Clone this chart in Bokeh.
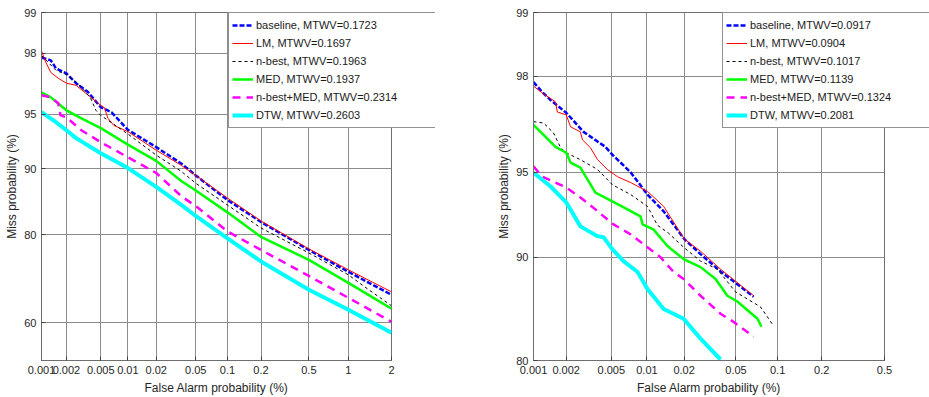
from statistics import NormalDist
from bokeh.plotting import figure
from bokeh.layouts import row
from bokeh.models import (CustomJSTickFormatter, FixedTicker, Range1d, Legend, LegendItem)
from bokeh.embed import file_html
from bokeh.resources import INLINE

FONT = "Liberation Sans"
ND = NormalDist()


def probit(pcts):
    return [ND.inv_cdf(v / 100.0) for v in pcts]


# ---------------- data (percent values) ----------------
series_names = ["baseline", "LM", "n-best", "MED", "n-best+MED", "DTW"]

# Left panel
left_mtwv = ["0.1723", "0.1697", "0.1963", "0.1937", "0.2314", "0.2603"]
left_x_ticks = [0.001, 0.002, 0.005, 0.01, 0.02, 0.05, 0.1, 0.2, 0.5, 1, 2]
left_x_labels = ["0.001", "0.002", "0.005", "0.01", "0.02", "0.05", "0.1", "0.2", "0.5", "1", "2"]
left_y_ticks = [60, 80, 90, 95, 98, 99]
left_y_labels = ["60", "80", "90", "95", "98", "99"]
left_x_range = [0.001, 2]
left_y_range = [50, 99]

left_baseline_fa = [0.001, 0.0013, 0.0015, 0.002, 0.0026, 0.0036, 0.005, 0.0066, 0.01, 0.02, 0.036, 0.05, 0.1, 0.2, 0.5, 1, 2]
left_baseline_miss = [97.86, 97.76, 97.46, 97.25, 96.81, 96.35, 95.48, 95.15, 93.85, 92.31, 90.6, 89.2, 85.84, 82.27, 77.01, 72.33, 66.97]
left_lm_fa = [0.001, 0.0011, 0.0013, 0.0016, 0.002, 0.0026, 0.0036, 0.005, 0.0055, 0.006, 0.007, 0.01, 0.02, 0.036, 0.05, 0.1, 0.2, 0.5, 1, 2]
left_lm_miss = [98.08, 97.76, 97.29, 97.04, 96.81, 96.71, 96.19, 95.6, 95.45, 94.75, 94.2, 93.7, 92.01, 90.4, 89.2, 86.13, 82.45, 77.22, 72.78, 67.69]
left_nbest_fa = [0.001, 0.0015, 0.002, 0.0027, 0.0038, 0.0044, 0.005, 0.01, 0.02, 0.036, 0.05, 0.1, 0.2, 0.5, 1, 1.4, 2]
left_nbest_miss = [97.93, 97.38, 97.2, 96.81, 96.07, 95.28, 94.94, 93.5, 91.51, 89.7, 88.2, 85.07, 81.22, 76.39, 71.66, 68.18, 64.28]
left_med_fa = [0.001, 0.0013, 0.002, 0.003, 0.005, 0.01, 0.02, 0.036, 0.05, 0.1, 0.2, 0.5, 1, 2]
left_med_miss = [96.35, 96.07, 95.28, 94.73, 93.98, 92.55, 90.9, 88.5, 87.2, 83.9, 79.56, 74.94, 69.81, 63.53]
left_nbmed_fa = [0.001, 0.0013, 0.0016, 0.0017, 0.002, 0.003, 0.005, 0.01, 0.02, 0.036, 0.05, 0.1, 0.2, 0.5, 1, 2]
left_nbmed_miss = [96.19, 96.07, 95.72, 94.94, 94.8, 93.81, 92.77, 91.29, 89.5, 86.4, 84.9, 80.6, 77.01, 71.4, 66.24, 60.22]
left_dtw_fa = [0.001, 0.0015, 0.002, 0.0026, 0.005, 0.01, 0.02, 0.036, 0.05, 0.1, 0.2, 0.5, 1, 2]
left_dtw_miss = [95.15, 94.44, 93.81, 93.14, 91.71, 90.08, 87.7, 85.1, 83.3, 79.3, 74.6, 68.18, 63.27, 57.38]

# Right panel
right_mtwv = ["0.0917", "0.0904", "0.1017", "0.1139", "0.1324", "0.2081"]
right_x_ticks = [0.001, 0.002, 0.005, 0.01, 0.02, 0.05, 0.1, 0.2, 0.5]
right_x_labels = ["0.001", "0.002", "0.005", "0.01", "0.02", "0.05", "0.1", "0.2", "0.5"]
right_y_ticks = [80, 90, 95, 98, 99]
right_y_labels = ["80", "90", "95", "98", "99"]
right_x_range = [0.001, 0.5]
right_y_range = [80, 99]

right_baseline_fa = [0.001, 0.00121, 0.00144, 0.002, 0.00286, 0.00445, 0.0051, 0.0073, 0.0101, 0.0137, 0.0201, 0.0269, 0.0403, 0.0496, 0.0674]
right_baseline_miss = [97.88, 97.65, 97.46, 97.12, 96.54, 96.02, 95.73, 95.0, 93.94, 93.03, 91.30, 90.24, 88.71, 87.97, 86.72]
right_lm_fa = [0.001, 0.00121, 0.0016, 0.00166, 0.002, 0.00219, 0.00268, 0.0028, 0.00329, 0.0038, 0.00463, 0.00565, 0.0073, 0.0101, 0.0137, 0.0201, 0.0269, 0.0383, 0.0674]
right_lm_miss = [97.79, 97.63, 97.41, 97.14, 97.06, 96.70, 96.54, 96.27, 95.99, 95.53, 95.12, 94.80, 94.53, 94.10, 93.31, 91.30, 90.45, 89.09, 86.82]
right_nbest_fa = [0.001, 0.00124, 0.00153, 0.00178, 0.002, 0.00268, 0.0038, 0.0051, 0.0073, 0.0101, 0.0122, 0.015, 0.0198, 0.0269, 0.0362, 0.0496, 0.0755, 0.0935]
right_nbest_miss = [96.86, 96.82, 96.51, 95.99, 95.80, 95.53, 95.12, 94.43, 93.94, 93.31, 92.2, 91.7, 90.74, 89.72, 89.09, 87.17, 85.78, 83.89]
right_med_fa = [0.001, 0.00124, 0.0016, 0.002, 0.00219, 0.00268, 0.00364, 0.0051, 0.00687, 0.00884, 0.0092, 0.0113, 0.0147, 0.0198, 0.0269, 0.0351, 0.0431, 0.0514, 0.0719, 0.0768]
right_med_miss = [96.76, 96.44, 96.02, 95.80, 95.41, 95.20, 94.04, 93.58, 93.14, 92.74, 92.26, 91.94, 90.83, 89.87, 89.25, 88.29, 86.82, 86.26, 84.61, 83.79]
right_nbmed_fa = [0.001, 0.00121, 0.002, 0.00268, 0.00364, 0.0051, 0.0073, 0.0101, 0.0129, 0.0165, 0.0198, 0.0269, 0.0383, 0.0478, 0.0674]
right_nbmed_miss = [95.25, 94.80, 94.29, 93.79, 93.14, 92.3, 91.62, 90.74, 90.02, 88.86, 88.29, 86.82, 85.11, 84.30, 82.72]
right_dtw_fa = [0.001, 0.00144, 0.002, 0.00268, 0.0038, 0.00428, 0.0051, 0.00636, 0.00836, 0.0101, 0.0137, 0.0198, 0.0269, 0.0383]
right_dtw_miss = [94.98, 94.34, 93.53, 92.13, 91.50, 91.43, 90.60, 89.72, 88.86, 87.43, 85.58, 84.61, 82.51, 80.12]

# ---------------- styles ----------------
STYLES = [
    dict(line_color="#0000ff", line_width=2.5, line_dash="5 2"),
    dict(line_color="#ff0000", line_width=1),
    dict(line_color="#000000", line_width=1, line_dash="3 3"),
    dict(line_color="#00ff00", line_width=2.5),
    dict(line_color="#ff00ff", line_width=2.5, line_dash="8 6"),
    dict(line_color="#00ffff", line_width=4),
]


def tick_formatter(pos, labels):
    return CustomJSTickFormatter(args=dict(pos=pos, lab=labels), code="""
let b = 0, d = Infinity;
for (let i = 0; i < pos.length; i++) {
  const e = Math.abs(pos[i] - tick);
  if (e < d) { d = e; b = i; }
}
return lab[b];
""")


def make_panel(width, bl, br, bb, xr, yr, xt, xl, yt, yl, curves):
    xr_p = probit(xr)
    yr_p = probit(yr)
    p = figure(width=width, height=397, output_backend="svg", toolbar_location=None,
               x_range=Range1d(xr_p[0], xr_p[1]), y_range=Range1d(yr_p[0], yr_p[1]),
               min_border_left=bl, min_border_right=br, min_border_top=12, min_border_bottom=bb)
    p.background_fill_color = "white"
    p.border_fill_color = "white"
    p.outline_line_color = "#6f6f6f"
    p.outline_line_width = 1

    xpos = probit(xt)
    ypos = probit(yt)
    p.xaxis.ticker = FixedTicker(ticks=xpos)
    p.yaxis.ticker = FixedTicker(ticks=ypos)
    p.xaxis.formatter = tick_formatter(xpos, xl)
    p.yaxis.formatter = tick_formatter(ypos, yl)
    for ax in (p.xaxis[0], p.yaxis[0]):
        ax.minor_tick_line_color = None
        ax.major_tick_in = 4
        ax.major_tick_out = 0
        ax.major_tick_line_color = "#404040"
        ax.axis_line_color = "#6f6f6f"
        ax.major_label_text_font = FONT
        ax.major_label_text_font_size = "11px"
        ax.major_label_text_color = "#262626"
        ax.axis_label_text_font = FONT
        ax.axis_label_text_font_size = "12px"
        ax.axis_label_text_font_style = "normal"
        ax.axis_label_text_color = "#262626"
    p.xaxis.axis_label = "False Alarm probability (%)"
    p.yaxis.axis_label = "Miss probability (%)"
    p.xaxis.major_label_standoff = 5
    p.xaxis.axis_label_standoff = 4
    p.yaxis.major_label_standoff = 5
    p.yaxis.axis_label_standoff = 2

    p.xgrid.grid_line_color = "#8c8c8c"
    p.ygrid.grid_line_color = "#8c8c8c"
    p.xgrid.grid_line_width = 1
    p.ygrid.grid_line_width = 1

    for (fa, miss), st in zip(curves, STYLES):
        p.line(probit(fa), probit(miss), **st)
    return p


def legend_fig(left, top, mtwv, curves):
    # transparent overlay figure that only carries the legend box
    lf = figure(width=208, height=140, output_backend="svg", toolbar_location=None,
                x_range=Range1d(0, 1), y_range=Range1d(0, 1),
                x_axis_type=None, y_axis_type=None,
                min_border_left=0, min_border_right=0, min_border_top=0, min_border_bottom=0)
    lf.outline_line_color = None
    lf.background_fill_alpha = 0
    lf.border_fill_alpha = 0
    items = []
    for name, m, (fa, miss), st in zip(series_names, mtwv, curves, STYLES):
        # same data, lying outside this overlay's view range: only the legend glyph shows
        r = lf.line(probit(fa), probit(miss), **st)
        items.append(LegendItem(label=f"{name}, MTWV={m}", renderers=[r]))
    leg = Legend(items=items, location="top_left")
    leg.border_line_color = "#262626"
    leg.border_line_width = 1
    leg.background_fill_color = "white"
    leg.background_fill_alpha = 1
    leg.label_text_font = FONT
    leg.label_text_font_size = "11px"
    leg.label_text_color = "#1a1a1a"
    leg.glyph_width = 21
    leg.glyph_height = 18
    leg.label_height = 18
    leg.label_width = 176
    leg.label_standoff = 3
    leg.spacing = 0
    leg.padding = 3
    leg.margin = 1
    lf.add_layout(leg)
    lf.styles = {"position": "absolute", "left": f"{left}px", "top": f"{top}px"}
    return lf


left_curves = [(left_baseline_fa, left_baseline_miss), (left_lm_fa, left_lm_miss),
               (left_nbest_fa, left_nbest_miss), (left_med_fa, left_med_miss),
               (left_nbmed_fa, left_nbmed_miss), (left_dtw_fa, left_dtw_miss)]
right_curves = [(right_baseline_fa, right_baseline_miss), (right_lm_fa, right_lm_miss),
                (right_nbest_fa, right_nbest_miss), (right_med_fa, right_med_miss),
                (right_nbmed_fa, right_nbmed_miss), (right_dtw_fa, right_dtw_miss)]

p1 = make_panel(468, 41, 77, 36, left_x_range, left_y_range, left_x_ticks, left_x_labels,
                left_y_ticks, left_y_labels, left_curves)
p2 = make_panel(461, 65, 45, 35, right_x_range, right_y_range, right_x_ticks, right_x_labels,
                right_y_ticks, right_y_labels, right_curves)
lg1 = legend_fig(227, 11, left_mtwv, left_curves)
lg2 = legend_fig(721, 11, right_mtwv, right_curves)

layout = row(p1, p2, spacing=0)
open("out.html", "w").write(file_html([layout, lg1, lg2], INLINE))
